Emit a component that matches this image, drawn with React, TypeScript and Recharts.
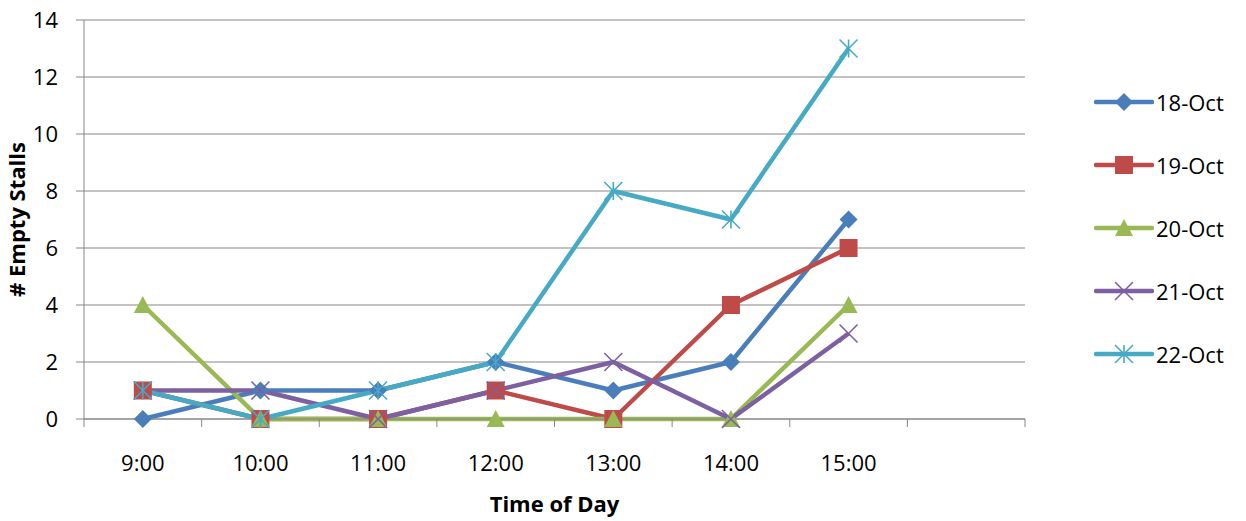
import { LineChart, Line, XAxis, YAxis, CartesianGrid, Legend } from 'recharts';

const times = ['9:00', '10:00', '11:00', '12:00', '13:00', '14:00', '15:00', ' '];
const oct18 = [0, 1, 1, 2, 1, 2, 7];
const oct19 = [1, 0, 0, 1, 0, 4, 6];
const oct20 = [4, 0, 0, 0, 0, 0, 4];
const oct21 = [1, 1, 0, 1, 2, 0, 3];
const oct22 = [1, 0, 1, 2, 8, 7, 13];
const yTicks = [0, 2, 4, 6, 8, 10, 12, 14];

const series = [
  { key: '18-Oct', values: oct18, color: '#4A7EBB', shape: 'diamond' },
  { key: '19-Oct', values: oct19, color: '#BE4B48', shape: 'square' },
  { key: '20-Oct', values: oct20, color: '#98B954', shape: 'triangle' },
  { key: '21-Oct', values: oct21, color: '#7D60A0', shape: 'x' },
  { key: '22-Oct', values: oct22, color: '#46AAC5', shape: 'star' },
];

const data = times.map((t, i) => {
  const row: Record<string, string | number | undefined> = { time: t };
  series.forEach((s) => (row[s.key] = s.values[i]));
  return row;
});

const W = 1246;
const H = 521;
const M = { top: 20, right: 221, bottom: 0, left: 0 };
const Y_W = 84;
const X_H = 102;
const FONT = '"Open Sans", sans-serif';
const GRID = '#868686';

function Marker({ shape, cx, cy, color }: { shape: string; cx: number; cy: number; color: string }) {
  if (cx == null || cy == null || isNaN(cx) || isNaN(cy)) return <g />;
  const r = 9;
  if (shape === 'diamond')
    return <polygon points={`${cx},${cy - r} ${cx + r},${cy} ${cx},${cy + r} ${cx - r},${cy}`} fill={color} />;
  if (shape === 'square') return <rect x={cx - r} y={cy - r} width={r * 2} height={r * 2} fill={color} />;
  if (shape === 'triangle')
    return <polygon points={`${cx},${cy - r} ${cx + r},${cy + r - 1} ${cx - r},${cy + r - 1}`} fill={color} />;
  if (shape === 'x')
    return (
      <g stroke={color} strokeWidth={1.6}>
        <line x1={cx - r} y1={cy - r} x2={cx + r} y2={cy + r} />
        <line x1={cx - r} y1={cy + r} x2={cx + r} y2={cy - r} />
      </g>
    );
  return (
    <g stroke={color} strokeWidth={1.6}>
      <line x1={cx - r} y1={cy - r} x2={cx + r} y2={cy + r} />
      <line x1={cx - r} y1={cy + r} x2={cx + r} y2={cy - r} />
      <line x1={cx} y1={cy - r} x2={cx} y2={cy + r} />
    </g>
  );
}

function XTick(props: any) {
  const { x, y, payload, index } = props;
  const band = (W - M.left - M.right - Y_W) / times.length;
  const left = x - band / 2;
  return (
    <g>
      <line x1={left} y1={y} x2={left} y2={y + 8} stroke={GRID} />
      {index === times.length - 1 && <line x1={left + band} y1={y} x2={left + band} y2={y + 8} stroke={GRID} />}
      <text x={x} y={y + 52} textAnchor="middle" fontSize={22} fontFamily={FONT} fill="#000">
        {payload.value}
      </text>
    </g>
  );
}

function LegendContent() {
  return (
    <div style={{ fontFamily: FONT, fontSize: 22, color: '#000' }}>
      {series.map((s) => (
        <div key={s.key} style={{ height: 63, display: 'flex', alignItems: 'center' }}>
          <svg width={60} height={24} style={{ display: 'block' }}>
            <line x1={2} y1={12} x2={58} y2={12} stroke={s.color} strokeWidth={4.5} strokeLinecap="round" />
            <Marker shape={s.shape} cx={30} cy={12} color={s.color} />
          </svg>
          <span style={{ marginLeft: 2 }}>{s.key}</span>
        </div>
      ))}
    </div>
  );
}

export default function App() {
  return (
    <div style={{ position: 'absolute', left: 0, top: 0, background: '#fff' }}>
      <LineChart width={W} height={H} data={data} margin={M}>
        <CartesianGrid vertical={false} stroke={GRID} strokeWidth={1.2} />
        <XAxis
          dataKey="time"
          scale="band"
          interval={0}
          height={X_H}
          stroke={GRID}
          tickLine={false}
          tickSize={0}
          tickMargin={0}
          tick={<XTick />}
          label={{
            value: 'Time of Day',
            position: 'insideBottom',
            offset: 9,
            style: { fontFamily: FONT, fontSize: 22, fontWeight: 700, fill: '#000' },
          }}
        />
        <YAxis
          width={Y_W}
          domain={[0, 14]}
          ticks={yTicks}
          interval={0}
          stroke={GRID}
          tickSize={8}
          tickMargin={18}
          tick={{ fontFamily: FONT, fontSize: 22, fill: '#000' }}
          label={{
            content: ({ viewBox }: any) => (
              <text
                x={viewBox.x + 25}
                y={viewBox.y + viewBox.height / 2}
                transform={`rotate(-90 ${viewBox.x + 25} ${viewBox.y + viewBox.height / 2})`}
                textAnchor="middle"
                fontFamily={FONT}
                fontSize={22}
                fontWeight={700}
                fill="#000"
              >
                # Empty Stalls
              </text>
            ),
          }}
        />
        <Legend
          layout="horizontal"
          verticalAlign="middle"
          content={<LegendContent />}
          wrapperStyle={{ left: 1094, top: 70, width: 150, height: 320 }}
        />
        {series.map((s) => (
          <Line
            key={s.key}
            dataKey={s.key}
            stroke={s.color}
            strokeWidth={4.5}
            strokeLinejoin="round"
            isAnimationActive={false}
            dot={(p: any) => <Marker key={`${s.key}-${p.index}`} shape={s.shape} cx={p.cx} cy={p.cy} color={s.color} />}
            activeDot={false}
          />
        ))}
      </LineChart>
    </div>
  );
}
